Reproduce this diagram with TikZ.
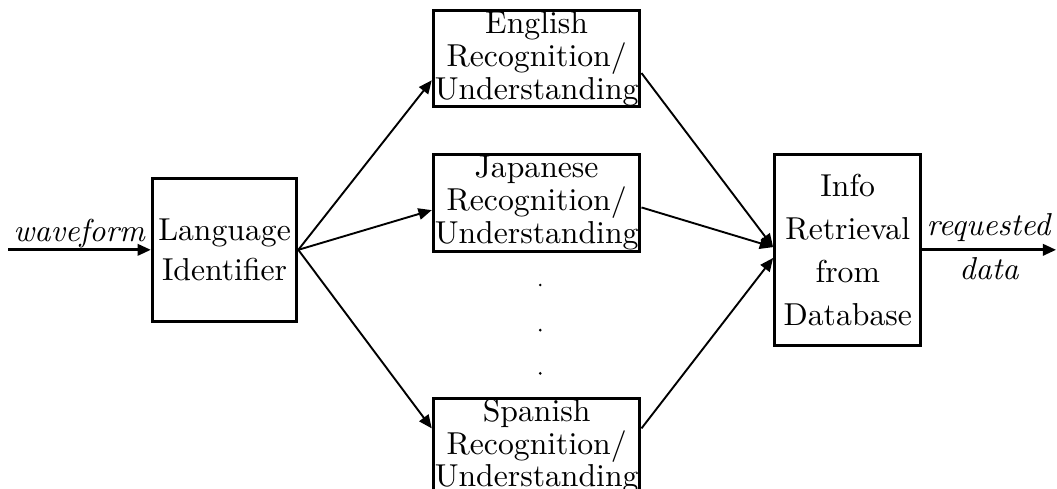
\documentclass[tikz,border=0pt]{standalone}
\usetikzlibrary{arrows.meta}

\begin{document}
\begin{tikzpicture}[
  block/.style={draw=black, line width=1pt, inner sep=0pt, align=center},
  recog/.style={block, minimum width=2.29cm, minimum height=1.07cm, font=\fontsize{10}{10.3}\selectfont},
  flow/.style={-{Triangle[length=4.2pt,width=3.6pt]}, line width=0.6pt}
]
  \useasboundingbox (0,0) rectangle (11.72,-5.42);

  \node[block, minimum width=1.60cm, minimum height=1.59cm, font=\fontsize{10}{12.6}\selectfont] (lang) at (2.49,-2.77) {Language\\Identifier};
  \node[recog] (eng) at (5.95,-0.65) {English\\Recognition/\\Understanding};
  \node[recog] (jap) at (5.95,-2.25) {Japanese\\Recognition/\\Understanding};
  \node[recog] (spa) at (5.95,-4.95) {Spanish\\Recognition/\\Understanding};
  \node[block, minimum width=1.62cm, minimum height=2.12cm, font=\fontsize{10}{13.5}\selectfont] (info) at (9.40,-2.77) {Info\\Retrieval\\from\\Database};

  \coordinate (wave) at (0.09,-2.77);
  \coordinate (req) at (11.71,-2.77);

  \draw[flow, line width=0.85pt] (wave) -- node[anchor=base, yshift=0.09cm] {\textit{waveform}} (lang.west);
  \draw[flow] (lang.east) -- ([yshift=-0.24cm]eng.west);
  \draw[flow] (lang.east) -- ([yshift=-0.08cm]jap.west);
  \draw[flow] (lang.east) -- ([yshift=0.2cm]spa.west);
  \draw[flow] ([yshift=-0.16cm]eng.east) -- ([yshift=0.03cm]info.west);
  \draw[flow] ([yshift=-0.05cm]jap.east) -- ([yshift=0.03cm]info.west);
  \draw[flow] ([yshift=0.2cm]spa.east) -- ([yshift=-0.09cm]info.west);
  \draw[flow, line width=0.85pt] (info.east) -- node[anchor=base, yshift=0.155cm] {\textit{requested}} node[anchor=base, yshift=-0.33cm] {\textit{data}} (req);

  % dots between the recognisers
  \foreach \y in {-3.16,-3.66,-4.14}
    \fill (5.99,\y) circle (0.45pt);
\end{tikzpicture}
\end{document}
